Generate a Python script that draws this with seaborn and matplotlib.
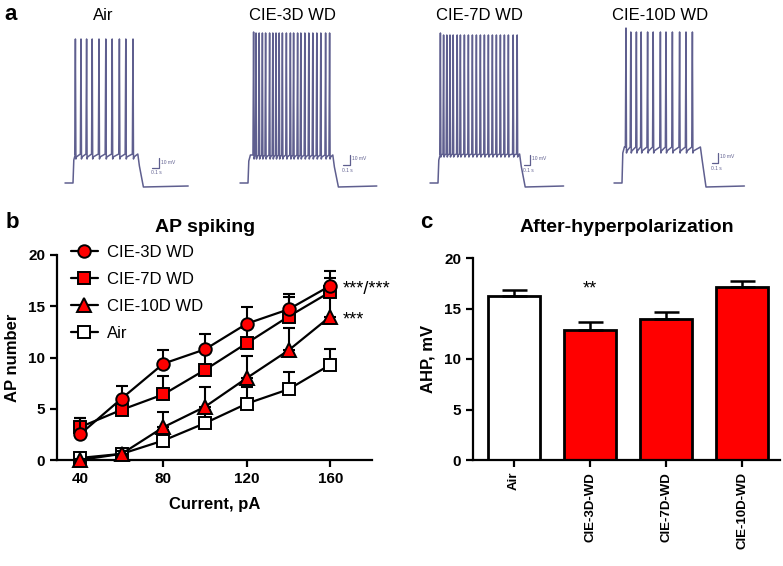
"""
Firing traces, AP spiking curves and AHP bars for air vs CIE withdrawal groups.
"""

import matplotlib

matplotlib.use("Agg")
import matplotlib.pyplot as plt
import numpy as np
import seaborn as sns

W_PX, H_PX = 783, 566

# ---- panel a: example traces (time in s from step onset, voltage in mV) ----
trace_names = ["Air", "CIE-3D WD", "CIE-7D WD", "CIE-10D WD"]
trace_onset_px = [73, 248, 438, 622]
trace_offset = [0.81, 1.06, 1.02, 0.98]
trace_plateau = [-41, -42, -41, -34]
trace_trough = [-46, -46, -44, -40]
trace_peak = [74, 80, 78, 81]
trace_first_peak = [74, 81, 80, 85]
spikes_air = [0.03, 0.10, 0.17, 0.24, 0.325, 0.41, 0.49, 0.58, 0.66, 0.75]
spikes_3d = [0.07, 0.10, 0.14, 0.18, 0.22, 0.27, 0.31, 0.35, 0.39, 0.43, 0.48,
             0.53, 0.57, 0.62, 0.66, 0.71, 0.76, 0.81, 0.86, 0.91, 0.97, 1.02]
spikes_7d = [0.03, 0.07, 0.11, 0.15, 0.19, 0.24, 0.28, 0.33, 0.38, 0.43, 0.48,
             0.53, 0.58, 0.63, 0.68, 0.73, 0.78, 0.83, 0.88, 0.94, 0.99]
spikes_10d = [0.05, 0.11, 0.18, 0.24, 0.32, 0.39, 0.48, 0.55, 0.63, 0.72, 0.80, 0.88]
trace_spikes = [spikes_air, spikes_3d, spikes_7d, spikes_10d]
scalebar_t = [1.07, 1.27, 1.15, 1.20]
scalebar_v = [-55, -52, -52, -50]
baseline_mv = -70
undershoot_mv = -74

# ---- panel b: AP number vs injected current (mean, upward SEM) ----
current_pa = [40, 60, 80, 100, 120, 140, 160]
ap_3d = [2.5, 6.0, 9.4, 10.8, 13.3, 14.7, 17.0]
ap_3d_sem = [1.6, 1.2, 1.3, 1.5, 1.6, 1.5, 1.4]
ap_7d = [3.2, 4.9, 6.4, 8.8, 11.4, 14.0, 16.4]
ap_7d_sem = [0.9, 1.0, 1.8, 1.7, 1.5, 1.9, 1.4]
ap_10d = [0.0, 0.6, 3.2, 5.2, 8.0, 10.7, 14.0]
ap_10d_sem = [0.1, 0.3, 1.5, 1.9, 2.1, 2.2, 2.0]
ap_air = [0.2, 0.6, 1.9, 3.6, 5.5, 6.9, 9.3]
ap_air_sem = [0.1, 0.3, 1.0, 1.3, 1.6, 1.7, 1.5]

# ---- panel c: AHP amplitude ----
ahp_groups = ["Air", "CIE-3D-WD", "CIE-7D-WD", "CIE-10D-WD"]
ahp_mean = [16.2, 12.9, 14.0, 17.1]
ahp_sem = [0.6, 0.8, 0.7, 0.6]

RED = "#ff0000"
TRACE = "#5f5f8f"


def px_rect(left, top, right, bottom):
    return [left / W_PX, 1 - bottom / H_PX, (right - left) / W_PX, (bottom - top) / H_PX]


def fx(x):
    return x / W_PX


def fy(y):
    return 1 - y / H_PX


sns.set_theme(style="ticks")
plt.rcParams["font.family"] = ["Liberation Sans", "DejaVu Sans"]
plt.rcParams.update({
    "axes.linewidth": 1.6,
    "text.color": "black",
    "axes.labelcolor": "black",
    "axes.edgecolor": "black",
    "xtick.color": "black",
    "ytick.color": "black",
})

fig = plt.figure(figsize=(W_PX / 100, H_PX / 100), dpi=100)

# panel a
fig.text(fx(4), fy(14), "a", fontsize=16, fontweight="bold", va="center")
for i, name in enumerate(trace_names):
    onset = trace_onset_px[i]
    ax = fig.add_axes(px_rect(onset - 10, 25, onset + 140, 192))
    ax.set_xlim(-10 / 80, 140 / 80)
    ax.set_ylim(baseline_mv - 9, baseline_mv + 158)
    ax.axis("off")

    spikes = trace_spikes[i]
    off = trace_offset[i]
    t = [-0.1, 0.0, 0.01, 0.03]
    v = [baseline_mv, baseline_mv, trace_plateau[i] - 6, trace_plateau[i]]
    for k, ts in enumerate(spikes):
        pk = trace_first_peak[i] if k == 0 else trace_peak[i]
        t += [ts - 0.008, ts, ts + 0.006, ts + 0.012]
        v += [trace_plateau[i], pk, trace_trough[i], trace_trough[i] + 2]
    t += [off, off + 0.02, off + 0.07, 1.44 if i == 0 else off + 0.55]
    v += [trace_plateau[i], trace_plateau[i] - 12, undershoot_mv, undershoot_mv + 1]
    sns.lineplot(x=np.array(t), y=np.array(v), ax=ax, color=TRACE, linewidth=1.1,
                 sort=False, estimator=None)

    sx, sv = scalebar_t[i], scalebar_v[i]
    ax.plot([sx - 0.08, sx, sx], [sv, sv, sv + 10], color=TRACE, linewidth=0.9)
    ax.text(sx + 0.03, sv + 6, "10 mV", fontsize=3.5, color=TRACE, va="center")
    ax.text(sx - 0.09, sv - 5, "0.1 s", fontsize=3.5, color=TRACE, va="center")

    title_x = [103, 292, 479, 660][i]
    fig.text(fx(title_x), fy(15), name, fontsize=12, ha="center", va="center")

# panel b
axb = fig.add_axes(px_rect(57, 255, 372, 460))
series = [
    ("Air", ap_air, ap_air_sem, "s", "white"),
    ("CIE-10D WD", ap_10d, ap_10d_sem, "^", RED),
    ("CIE-7D WD", ap_7d, ap_7d_sem, "s", RED),
    ("CIE-3D WD", ap_3d, ap_3d_sem, "o", RED),
]
for z, (label, mean, sem, mk, face) in enumerate(series):
    axb.errorbar(current_pa, mean, yerr=[np.zeros(len(mean)), sem], fmt="none",
                 ecolor="black", elinewidth=1.5, capsize=4.5, capthick=1.5,
                 zorder=2 + 2 * z, clip_on=False)
    sns.lineplot(x=current_pa, y=mean, ax=axb, color="black", linewidth=1.6,
                 marker=mk, markersize=9 if mk != "^" else 10,
                 markerfacecolor=face, markeredgecolor="black", markeredgewidth=1.4,
                 label=label, zorder=3 + 2 * z, clip_on=False)
h, l = axb.get_legend_handles_labels()
lookup = dict(zip(l, h))
order = ["CIE-3D WD", "CIE-7D WD", "CIE-10D WD", "Air"]
axb.legend([lookup[k] for k in order], order, loc="upper left", frameon=False,
           bbox_to_anchor=(fx(71), fy(245)), bbox_transform=fig.transFigure,
           fontsize=12, handlelength=1.6, handletextpad=0.55, labelspacing=0.72,
           borderpad=0, borderaxespad=0)
axb.set_xlim(29, 180)
axb.set_ylim(0, 20)
axb.set_xticks([40, 80, 120, 160])
axb.set_yticks([0, 5, 10, 15, 20])
axb.set_xlabel("Current, pA", fontsize=12, fontweight="bold", labelpad=8)
axb.set_ylabel("AP number", fontsize=12, fontweight="bold", labelpad=6)
axb.text(166, 16.6, "***/***", fontsize=13, va="center")
axb.text(166, 13.7, "***", fontsize=13, va="center")
fig.text(fx(205), fy(228), "AP spiking", fontsize=14, fontweight="bold", ha="center", va="center")
fig.text(fx(6), fy(222), "b", fontsize=16, fontweight="bold", va="center")

# panel c
axc = fig.add_axes(px_rect(473, 258, 780, 460))
sns.barplot(x=ahp_groups, y=ahp_mean, hue=ahp_groups, ax=axc, legend=False,
            palette=["white", RED, RED, RED], edgecolor="black", linewidth=2,
            width=0.68, errorbar=None, saturation=1)
axc.errorbar(range(len(ahp_groups)), ahp_mean,
             yerr=[np.zeros(len(ahp_mean)), ahp_sem], fmt="none", ecolor="black",
             elinewidth=1.8, capsize=9, capthick=1.8, zorder=1)
axc.set_xlim(-0.54, 3.5)
axc.set_ylim(0, 20)
axc.set_yticks([0, 5, 10, 15, 20])
axc.set_xlabel("")
axc.set_ylabel("AHP, mV", fontsize=12, fontweight="bold", labelpad=6)
axc.text(1, 16.9, "**", fontsize=13, ha="center", va="center")
fig.text(fx(627), fy(228), "After-hyperpolarization", fontsize=14, fontweight="bold",
         ha="center", va="center")
fig.text(fx(420), fy(222), "c", fontsize=16, fontweight="bold", va="center")

for ax in (axb, axc):
    sns.despine(ax=ax)
    ax.tick_params(axis="both", direction="out", length=5, width=1.6, labelsize=11)
    for lab in ax.get_yticklabels() + ax.get_xticklabels():
        lab.set_fontweight("bold")
for lab in axc.get_xticklabels():
    lab.set_rotation(90)
    lab.set_fontsize(9.5)

fig.savefig("out.png", dpi=100)
plt.close(fig)
